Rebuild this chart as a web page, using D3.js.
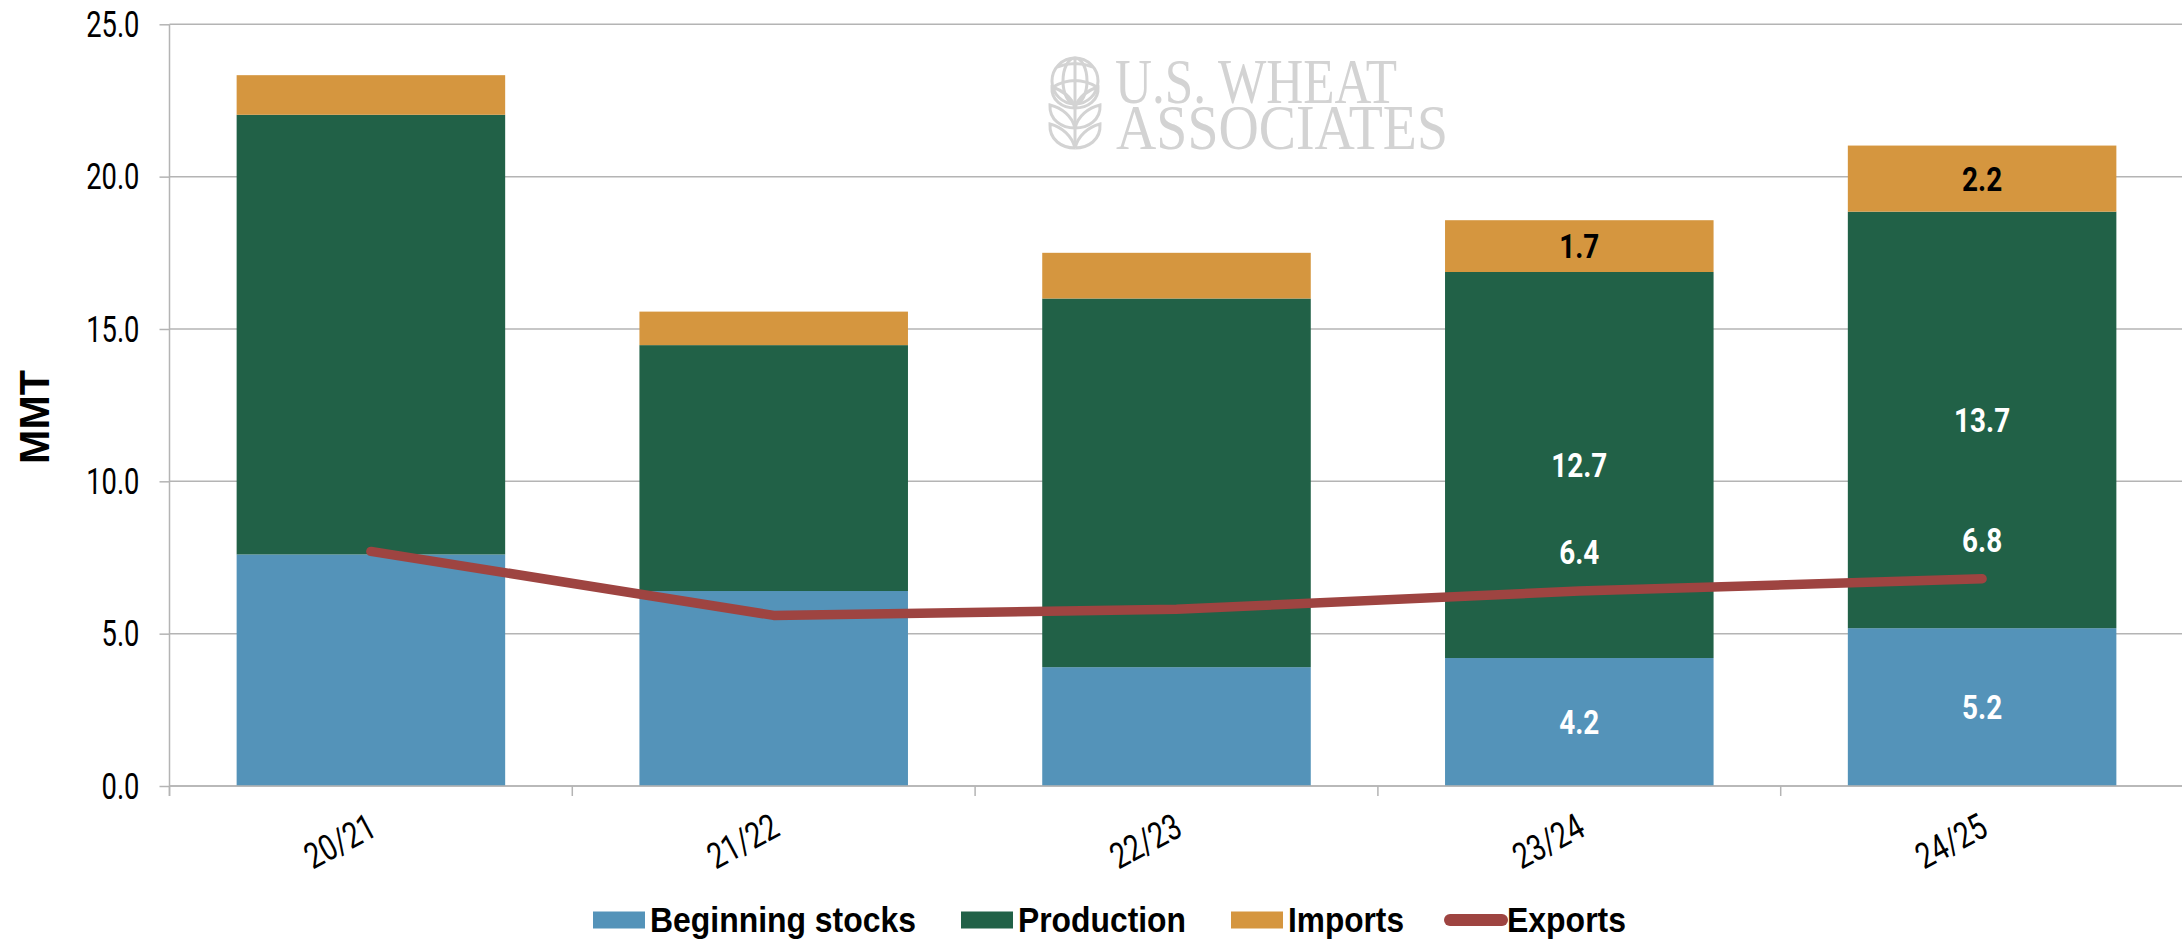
<!DOCTYPE html>
<html><head><meta charset="utf-8">
<script src="https://cdn.jsdelivr.net/npm/d3@7/dist/d3.min.js"></script>
<style>html,body{margin:0;padding:0;background:#fff;overflow:hidden}svg{display:block}</style>
</head><body><svg id="c" width="2182" height="940"></svg>
<script>
const categories = ["20/21","21/22","22/23","23/24","24/25"];
const beginningStocks = [7.6,6.4,3.9,4.2,5.18];
const production = [14.43,8.07,12.1,12.67,13.67];
const imports = [1.3,1.1,1.5,1.7,2.17];
const exportsSeries = [7.7,5.6,5.8,6.4,6.8];
const stockLabels = [null,null,null,"4.2","5.2"];
const productionLabels = [null,null,null,"12.7","13.7"];
const importLabels = [null,null,null,"1.7","2.2"];
const exportLabels = [null,null,null,"6.4","6.8"];
const yTicks = [0,5,10,15,20,25];
const legendNames = ["Beginning stocks","Production","Imports","Exports"];

const BLUE="#5493b9",GREEN="#216147",ORANGE="#d5963f",RED="#9e4441",GRID="#b4b4b4",LOGO="#d3d3d3";
const svg=d3.select("#c");
const pLeft=169.5,pRight=2183.5,pTop=24.3,pBottom=786;
const x=d3.scaleBand().domain(categories).range([pLeft,pRight]).paddingInner(1/3).paddingOuter(1/6);
const y=d3.scaleLinear().domain([0,25]).range([pBottom,pTop]);

// squeeze Roboto to the condensed look of the original
function squeeze(sel,k){
 sel.each(function(){
  d3.select(this).attr("textLength",this.getComputedTextLength()*k).attr("lengthAdjust","spacingAndGlyphs");
 });
}

// gridlines
svg.append("g").selectAll("line").data(yTicks).join("line")
 .attr("x1",pLeft).attr("x2",2182).attr("y1",d=>y(d)).attr("y2",d=>y(d))
 .attr("stroke",GRID).attr("stroke-width",1.5);

// watermark logo
const logo=svg.append("g").attr("fill",LOGO).attr("font-family","Liberation Serif").attr("font-size",64);
logo.append("text").attr("x",1115).attr("y",103).attr("textLength",282).attr("lengthAdjust","spacingAndGlyphs").text("U.S. WHEAT");
logo.append("text").attr("x",1116).attr("y",149).attr("textLength",332).attr("lengthAdjust","spacingAndGlyphs").text("ASSOCIATES");
const icon=svg.append("g").attr("fill","none").attr("stroke",LOGO).attr("stroke-width",3);
icon.append("circle").attr("cx",1075).attr("cy",81).attr("r",23);
icon.append("ellipse").attr("cx",1075).attr("cy",81).attr("rx",12).attr("ry",23);
icon.append("path").attr("d","M1075 58V148M1057 67Q1075 60 1093 67M1053 87Q1075 74 1097 87");
const leaves=["M1075 108C1062 108 1051 100 1052 87C1062 90 1072 97 1075 108",
 "M1075 128C1062 128 1049 120 1050 105C1062 108 1072 116 1075 128",
 "M1075 148C1062 148 1049 140 1050 124C1062 127 1072 136 1075 148"];
leaves.forEach(d=>{
 icon.append("path").attr("d",d);
 icon.append("path").attr("d",d).attr("transform","translate(2150,0) scale(-1,1)");
});

// stacked bars
const rows=categories.map((c,i)=>({c,stocks:beginningStocks[i],production:production[i],imports:imports[i]}));
const stack=d3.stack().keys(["stocks","production","imports"])(rows);
const colors={stocks:BLUE,production:GREEN,imports:ORANGE};
svg.append("g").selectAll("g").data(stack).join("g").attr("fill",d=>colors[d.key])
 .selectAll("rect").data(d=>d).join("rect")
 .attr("x",d=>x(d.data.c)).attr("width",x.bandwidth())
 .attr("y",d=>y(d[1])).attr("height",d=>y(d[0])-y(d[1]));

// axes
const yAxis=d3.axisLeft(y).tickValues(yTicks).tickFormat(d3.format(".1f")).tickSize(10).tickPadding(20);
const ga=svg.append("g").attr("transform",`translate(${pLeft},0)`).call(yAxis);
ga.select(".domain").attr("stroke",GRID).attr("stroke-width",1.5).attr("d",`M0,${pTop}V${pBottom+10}`);
ga.selectAll(".tick line").attr("stroke",GRID).attr("stroke-width",1.5);
ga.selectAll("text").attr("font-family","Roboto").attr("font-size",36).attr("fill","#000").attr("dy","0.34em").call(squeeze,0.76);

const edges=categories.map(c=>x(c)-x.step()*x.paddingInner()/2);
svg.append("g").selectAll("line").data(edges).join("line")
 .attr("x1",d=>d).attr("x2",d=>d).attr("y1",pBottom).attr("y2",pBottom+10)
 .attr("stroke",GRID).attr("stroke-width",1.5);
svg.append("line").attr("x1",pLeft).attr("x2",2182).attr("y1",pBottom).attr("y2",pBottom).attr("stroke",GRID).attr("stroke-width",1.5);
svg.append("g").selectAll("text").data(categories).join("text")
 .attr("transform",d=>`translate(${x(d)+x.bandwidth()/2-31},${pBottom+55}) rotate(-28)`)
 .attr("text-anchor","middle").attr("dy","0.35em")
 .attr("font-family","Roboto").attr("font-size",36).attr("fill","#000").text(d=>d).call(squeeze,0.78);

svg.append("text").attr("transform","translate(34,417) rotate(-90)").attr("text-anchor","middle").attr("dy","0.35em")
 .attr("font-family","Liberation Sans").attr("font-weight","bold").attr("font-size",43).attr("fill","#000").text("MMT").call(squeeze,0.96);

// exports line
const cx=c=>x(c)+x.bandwidth()/2;
const line=d3.line().x((d,i)=>cx(categories[i])).y(d=>y(d));
svg.append("path").attr("d",line(exportsSeries)).attr("fill","none").attr("stroke",RED).attr("stroke-width",9.5)
 .attr("stroke-linecap","round").attr("stroke-linejoin","round");

// data labels
function labels(arr,yf,fill){
 const data=arr.map((t,i)=>({t,i})).filter(d=>d.t!==null);
 svg.append("g").selectAll("text").data(data).join("text")
  .attr("x",d=>cx(categories[d.i]))
  .attr("y",d=>yf(d.i)).attr("dy","0.35em").attr("text-anchor","middle")
  .attr("font-family","Roboto").attr("font-weight","bold").attr("font-size",34).attr("fill",fill).text(d=>d.t).call(squeeze,0.82);
}
labels(stockLabels,i=>y(beginningStocks[i]/2),"#fff");
labels(productionLabels,i=>y(beginningStocks[i]+production[i]/2),"#fff");
labels(importLabels,i=>y(beginningStocks[i]+production[i]+imports[i]/2),"#000");
labels(exportLabels,i=>y(exportsSeries[i])-39,"#fff");

// legend
const legendX=[593,961,1231,1444],legendTextW=[266,168,116,119],swW=52,legendY=920;
const lg=svg.append("g");
legendNames.forEach((n,i)=>{
 if(i<3) lg.append("rect").attr("x",legendX[i]).attr("y",legendY-8.5).attr("width",swW).attr("height",17).attr("fill",[BLUE,GREEN,ORANGE][i]);
 else lg.append("line").attr("x1",legendX[i]+6).attr("x2",legendX[i]+58).attr("y1",legendY).attr("y2",legendY).attr("stroke",RED).attr("stroke-width",12).attr("stroke-linecap","round");
 lg.append("text").attr("x",i<3?legendX[i]+swW+5:legendX[i]+63).attr("y",legendY).attr("dy","0.35em")
  .attr("font-family","Liberation Sans").attr("font-weight","bold").attr("font-size",35).attr("fill","#000")
  .attr("textLength",legendTextW[i]).attr("lengthAdjust","spacingAndGlyphs").text(n);
});
</script></body></html>
